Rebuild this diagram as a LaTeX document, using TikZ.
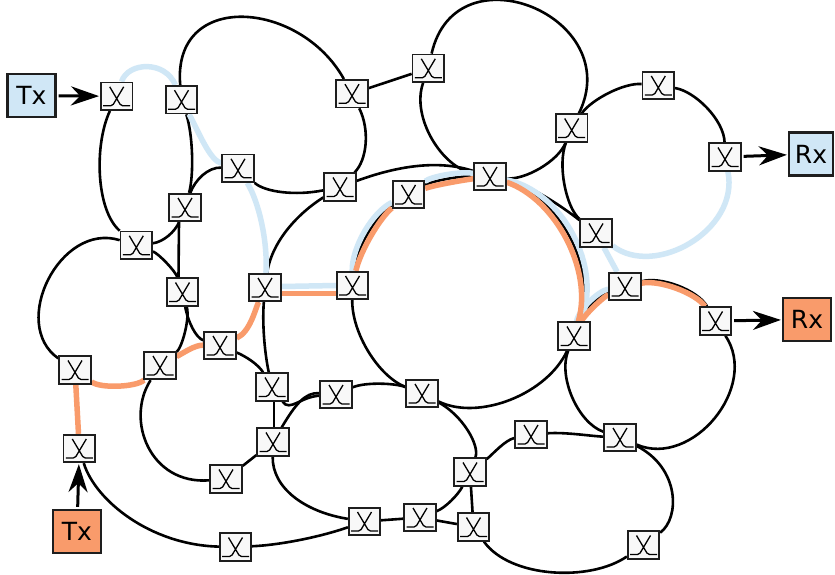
\documentclass[tikz,border=0pt]{standalone}
\usepackage{fontspec}
\newfontfamily\dejavu{DejaVu Sans}
\usetikzlibrary{arrows.meta,backgrounds,calc}
\definecolor{lblue}{RGB}{208,231,246}
\definecolor{lorange}{RGB}{249,155,107}
\definecolor{edgec}{RGB}{30,30,30}
\definecolor{swfill}{RGB}{248,248,248}
% #1 style, #2 from, #3 to, #4 cx, #5 cy, #6 rx, #7 ry, #8 t1, #9 t2
\newcommand\myarc[9]{%
 \pgfmathsetmacro\myk{4/3*tan((#9-#8)/4)}%
 \draw[#1] (#2) .. controls ({#4+#6*cos(#8)-\myk*#6*sin(#8)},{#5+#7*sin(#8)+\myk*#7*cos(#8)}) and ({#4+#6*cos(#9)+\myk*#6*sin(#9)},{#5+#7*sin(#9)-\myk*#7*cos(#9)}) .. (#3);}
\begin{document}
\begin{tikzpicture}[x=1pt,y=-1pt,
 ring/.style={line width=2.6pt,black},
 bl/.style={line width=5.5pt,lblue},
 orl/.style={line width=5.5pt,lorange},
 sw/.style={draw=edgec,line width=1.8pt,fill=swfill,minimum width=31.5pt,minimum height=27.5pt,inner sep=0pt,
  path picture={\draw[line width=1.3pt,black,shift={(path picture bounding box.center)}]
   (-7pt,9.5pt) -- (3.4pt,-8pt) .. controls (4pt,-9.3pt) and (4.8pt,-9.5pt) .. (6pt,-9.5pt) -- (13.5pt,-9.5pt)
   (7pt,9.5pt) -- (-3.4pt,-8pt) .. controls (-4pt,-9.3pt) and (-4.8pt,-9.5pt) .. (-6pt,-9.5pt) -- (-13.5pt,-9.5pt);}},
 term/.style={draw=edgec,line width=2.2pt,minimum width=48pt,minimum height=43pt,inner sep=0pt,
  font=\dejavu\fontsize{25}{30}\selectfont},
 arr/.style={line width=3pt,-{Stealth[length=28pt,width=19pt,inset=9pt]},shorten <=2pt,shorten >=1pt}]
\useasboundingbox (0,0) rectangle (835,575);
% terminals
\node[term,fill=lblue] (txb) at (31.5,95.5) {Tx};
\node[term,fill=lblue,minimum width=44pt] (rxb) at (811,154) {Rx};
\node[term,fill=lorange] (txo) at (77,531.5) {Tx};
\node[term,fill=lorange] (rxo) at (807,319.5) {Rx};
% switches
\node[sw] (s1) at (116.7,96.3) {};
\node[sw] (s2) at (181.5,99.7) {};
\node[sw] (s3) at (238,168.3) {};
\node[sw] (s36) at (185,207.5) {};
\node[sw] (s35) at (136.3,245.3) {};
\node[sw] (s34) at (182.5,292) {};
\node[sw] (s33) at (220,345.5) {};
\node[sw] (s32) at (160,365.5) {};
\node[sw] (s31) at (75,370) {};
\node[sw] (s30) at (79.3,448.5) {};
\node[sw] (s29) at (226,479) {};
\node[sw] (s28) at (235.5,547) {};
\node[sw] (s26) at (273,442) {};
\node[sw] (s27) at (272,387) {};
\node[sw] (s37) at (265,287.5) {};
\node[sw] (s38) at (352.5,285.5) {};
\node[sw] (s7) at (340,187) {};
\node[sw] (s5) at (352,93.7) {};
\node[sw] (s6) at (428.3,68.3) {};
\node[sw] (s8) at (408.5,194.5) {};
\node[sw] (s9) at (490,176.5) {};
\node[sw] (s10) at (571.7,128) {};
\node[sw] (s11) at (658.3,85.5) {};
\node[sw] (s12) at (725,157) {};
\node[sw] (s13) at (596,233) {};
\node[sw] (s14) at (625,286.5) {};
\node[sw] (s15) at (574,336) {};
\node[sw] (s16) at (715.5,321) {};
\node[sw] (s17) at (620,437.5) {};
\node[sw] (s18) at (643.5,545) {};
\node[sw] (s19) at (531,434.5) {};
\node[sw] (s20) at (470,472) {};
\node[sw] (s21) at (473.5,527) {};
\node[sw] (s22) at (420,517.5) {};
\node[sw] (s23) at (364.5,521.5) {};
\node[sw] (s24) at (422,393.5) {};
\node[sw] (s25) at (336,394.5) {};
% arrows
\draw[arr] (txb) -- (s1);
\draw[arr] (txo) -- (s30);
\draw[arr] (s12) -- (rxb);
\draw[arr] (s16) -- (rxo);
\begin{scope}[on background layer]
\fill[white] (0,0) rectangle (835,575);
% ring A
\draw[ring] (s1) .. controls (94,145) and (96,210) .. (s35);
\draw[ring] (s35) .. controls (163,242) and (175,232) .. (s36);
\draw[ring] (s36) .. controls (194,175) and (193,135) .. (s2);
% ring B
\draw[ring] (s2) .. controls (172,-10) and (300,0) .. (s5);
\draw[ring] (s5) .. controls (370,130) and (367,160) .. (s7);
\draw[ring] (s7) .. controls (295,196) and (265,192) .. (s3);
\draw[ring] (s3) .. controls (208,167) and (195,180) .. (s36);
\draw[ring] (s5) -- (s6);
% top circle
\myarc{ring}{s6}{s10}{501.5}{90.5}{80.5}{85.5}{195.6}{386.7}
\myarc{ring}{s10}{s9}{501.5}{90.5}{80.5}{85.5}{26.7}{98.1}
\myarc{ring}{s9}{s6}{501.5}{90.5}{80.5}{85.5}{98.1}{195.6}
% ring G
\myarc{ring}{s10}{s11}{648}{168}{82}{82}{207.5}{276.9}
\myarc{ring}{s11}{s12}{648}{168}{82}{82}{276.9}{351.9}
\myarc{ring}{s13}{s10}{648}{168}{82}{82}{128.7}{207.5}
\draw[ring] (s9) .. controls (530,185) and (560,205) .. (s13);
\draw[ring] (s7) .. controls (400,165) and (440,160) .. (s9);
\draw[ring] (s37) .. controls (272,240) and (300,212) .. (s7);
% ring F
\myarc{ring}{s38}{s8}{467}{292}{113}{113}{183}{238.9}
\myarc{ring}{s8}{s9}{467}{292}{113}{113}{238.9}{281.2}
\myarc{ring}{s9}{s15}{467}{292}{113}{113}{281.2}{382.4}
\myarc{ring}{s15}{s24}{467}{292}{113}{113}{22.4}{114}
\myarc{ring}{s24}{s38}{467}{292}{113}{113}{114}{183}
% ring C
\myarc{ring}{s35}{s34}{115}{313}{70}{70}{287.9}{342.6}
\myarc{ring}{s34}{s32}{115}{313}{70}{70}{342.6}{409.1}
\myarc{ring}{s32}{s31}{115}{313}{70}{70}{49.1}{125.1}
\myarc{ring}{s31}{s35}{115}{313}{70}{70}{125.1}{287.9}
\draw[ring] ([xshift=-6pt]s36.south) -- ([xshift=-4pt]s34.north);
\draw[ring] (s34) .. controls (188,322) and (196,338) .. (s33);
\draw[ring] (s32) .. controls (185,352) and (195,345) .. (s33);
\draw[ring] (s33) .. controls (250,332) and (255,310) .. (s37);
\draw[ring] (s33) .. controls (245,356) and (258,364) .. (s27);
\draw[ring] (s27) .. controls (265,355) and (262,325) .. (s37);
\draw[ring] ([xshift=2pt]s27.south) -- ([xshift=1pt]s26.north);
\draw[ring] (s26) -- (s29);
\draw[ring] (s29) .. controls (150,485) and (125,420) .. (s32);
% ring J
\draw[ring] (s26) .. controls (295,405) and (305,392) .. (s25);
\draw[ring] (s27) .. controls (290,412) and (300,397) .. (s25);
\draw[ring] (s25) .. controls (365,382) and (395,383) .. (s24);
\draw[ring] (s24) .. controls (462,415) and (480,445) .. (s20);
\draw[ring] (s20) .. controls (458,495) and (445,508) .. (s22);
\draw[ring] (s22) -- (s23);
\draw[ring] (s23) .. controls (305,512) and (272,488) .. (s26);
\draw[ring] (s22) -- (s21);
\draw[ring] (s23) .. controls (320,537) and (280,545) .. (s28);
\draw[ring] (s28) .. controls (150,545) and (95,500) .. (s30);
% ring I
\draw[ring] (s20) .. controls (492,455) and (505,440) .. (s19);
\draw[ring] (s19) .. controls (565,432) and (590,436) .. (s17);
\draw[ring] (s17) .. controls (680,468) and (680,518) .. (s18);
\draw[ring] (s18) .. controls (590,582) and (510,578) .. (s21);
\draw[ring] (s21) -- (s20);
% ring H
\myarc{ring}{s14}{s16}{649}{364}{81}{81}{252.7}{327.3}
\myarc{ring}{s16}{s17}{649}{364}{81}{81}{327.3}{471.7}
\myarc{ring}{s17}{s15}{649}{364}{81}{81}{111.7}{200.5}
\myarc{ring}{s15}{s14}{649}{364}{81}{81}{200.5}{252.7}
% blue path
\draw[bl] (s1) .. controls (128,62) and (165,60) .. (s2);
\draw[bl] (s2) .. controls (200,135) and (210,160) .. (s3);
\draw[bl] (s3) .. controls (258,200) and (268,240) .. (s37);
\draw[bl] ([yshift=1pt]s37.east) -- (s38.west);
\myarc{bl}{s38}{s8}{467}{292}{117.5}{117.5}{183}{238.9}
\myarc{bl}{s8}{s9}{467}{292}{117.5}{117.5}{238.9}{281.2}
\myarc{bl}{s9}{s15}{467}{292}{117.5}{117.5}{281.2}{382.4}
\myarc{bl}{s15}{s14}{649}{364}{85}{85}{200.5}{252.7}
\draw[bl] (s14) -- (s13);
\myarc{bl}{s12}{s13}{648}{168}{82}{82}{351.9}{488.7}
% orange path
\draw[orl] (s30) -- (s31);
\myarc{orl}{s32}{s31}{115}{313}{70}{70}{49.1}{125.1}
\draw[orl] (s32) .. controls (185,352) and (195,345) .. (s33);
\draw[orl] (s33) .. controls (250,332) and (255,310) .. (s37);
\draw[orl] ([yshift=-6pt]s37.east) -- ([yshift=-8pt]s38.west);
\myarc{orl}{s38}{s8}{467}{292}{108.5}{108.5}{183}{238.9}
\myarc{orl}{s8}{s9}{467}{292}{108.5}{108.5}{238.9}{281.2}
\myarc{orl}{s9}{s15}{467}{292}{108.5}{108.5}{281.2}{382.4}
\myarc{orl}{s15}{s14}{649}{364}{77.5}{77.5}{200.5}{252.7}
\myarc{orl}{s14}{s16}{649}{364}{77.5}{77.5}{252.7}{327.3}
\end{scope}
\end{tikzpicture}
\end{document}
